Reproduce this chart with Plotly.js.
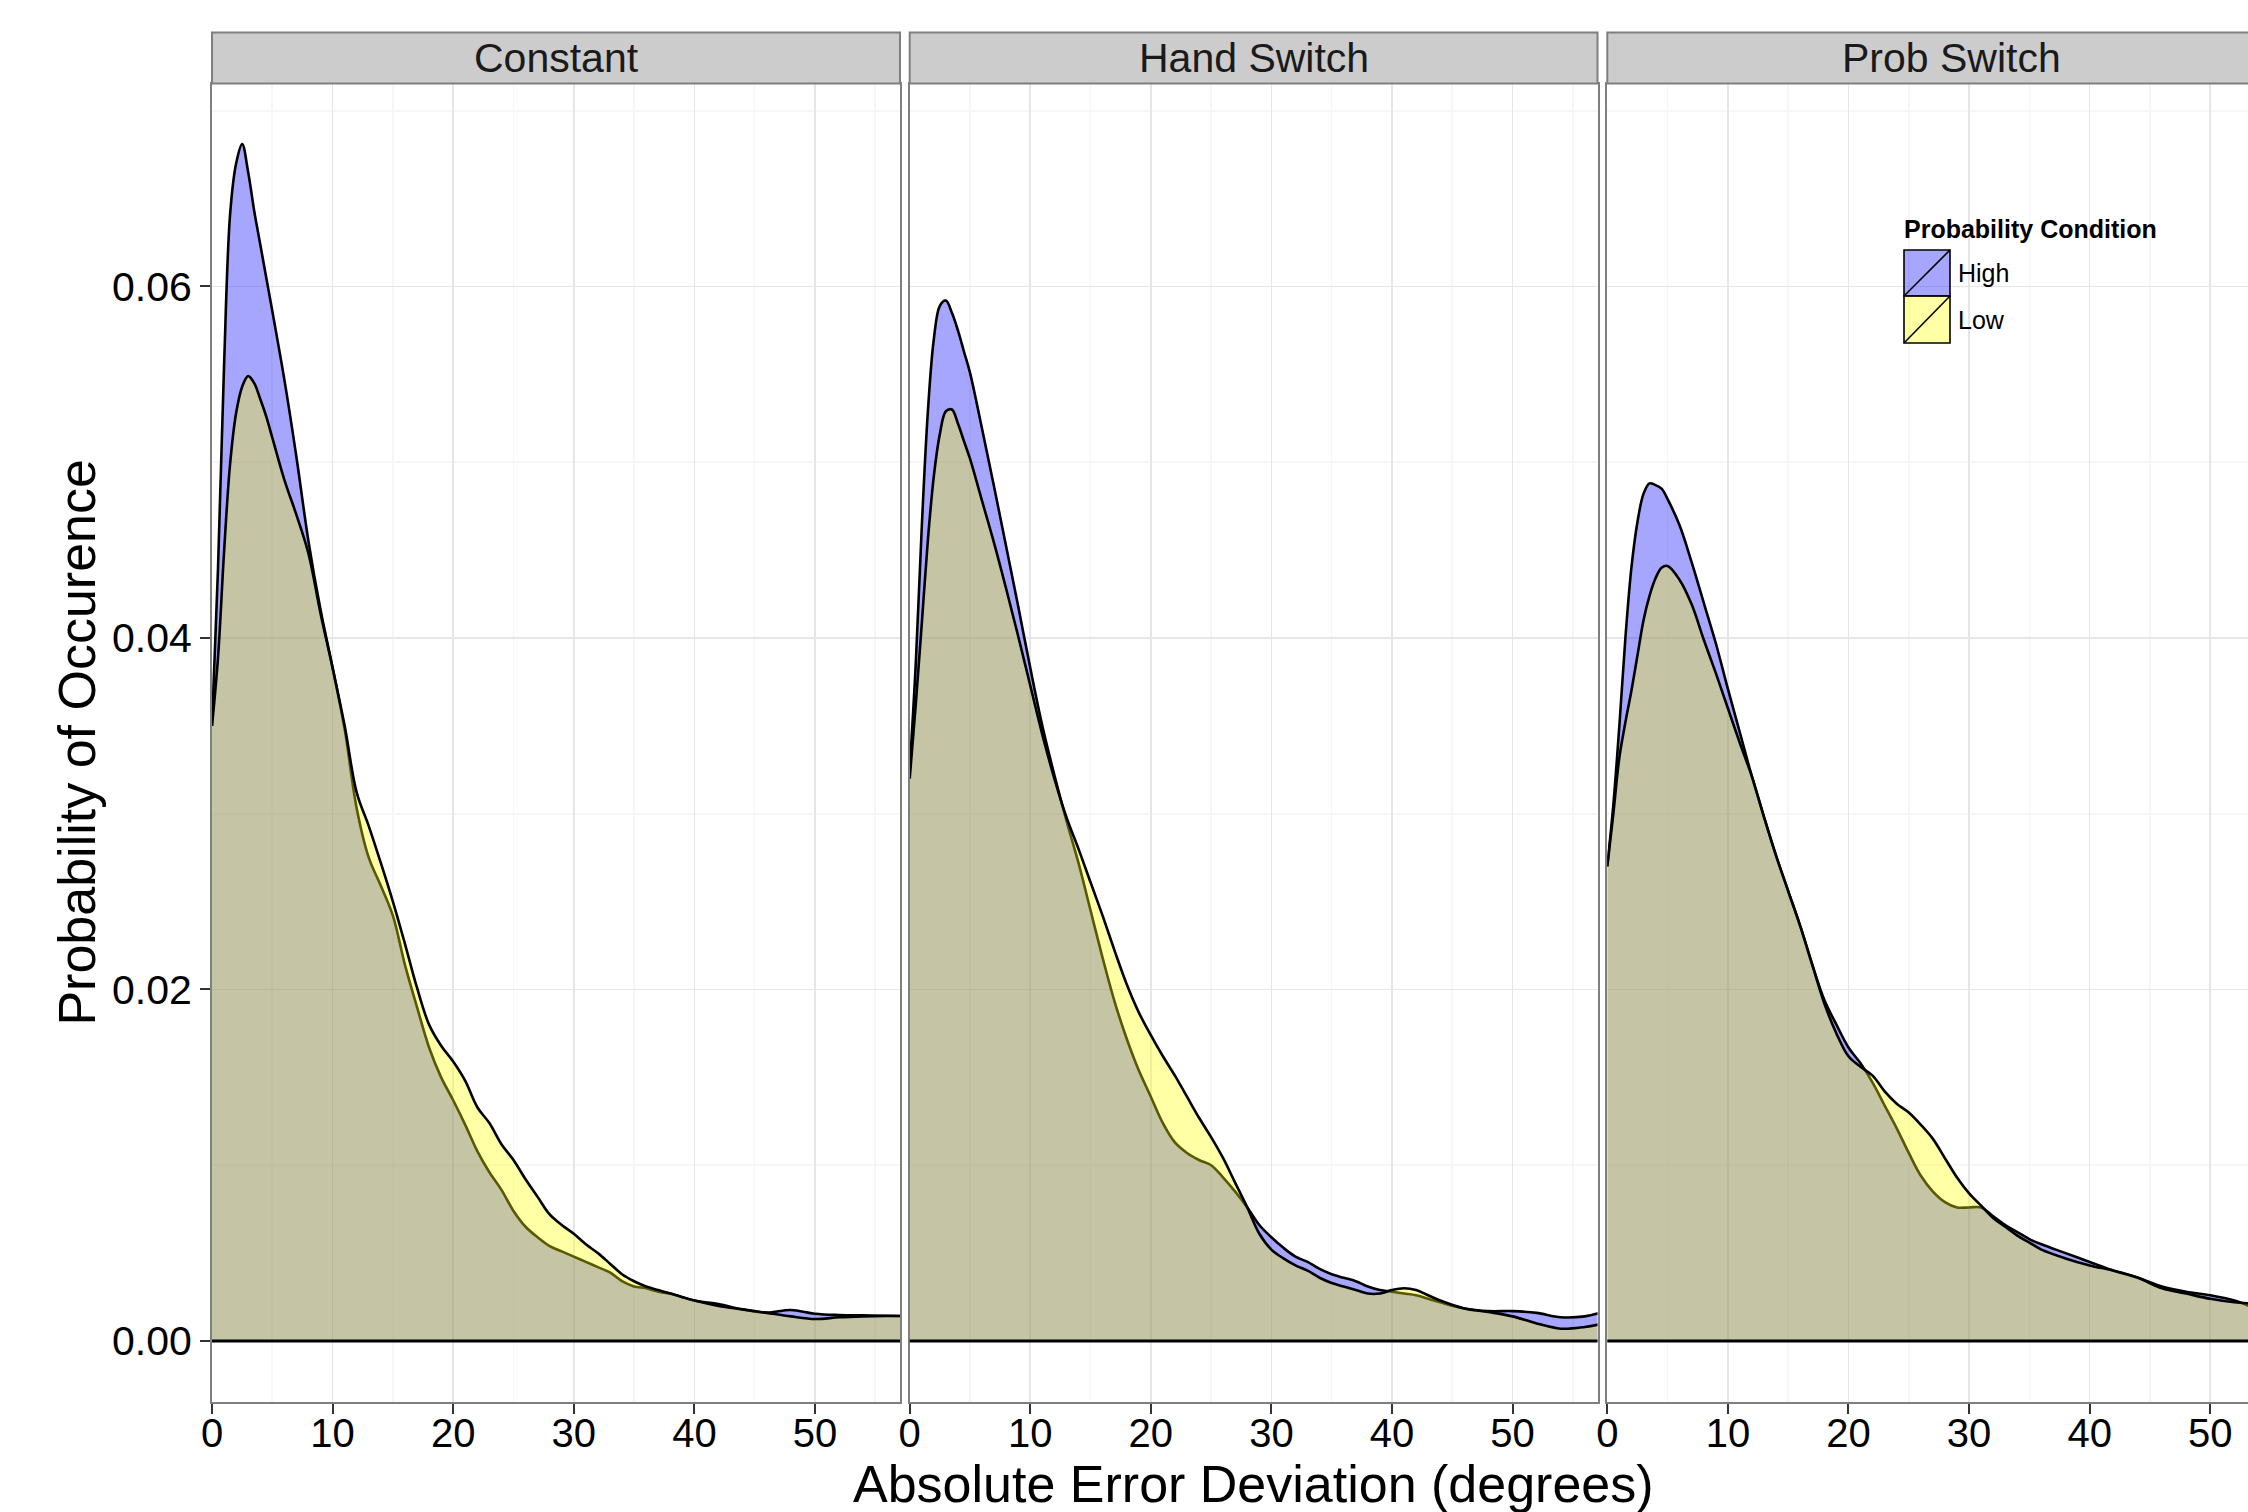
<!DOCTYPE html>
<html>
<head>
<meta charset="utf-8">
<script src="https://cdn.plot.ly/plotly-3.0.1.min.js"></script>
<style>html,body{margin:0;padding:0;background:#fff;}#chart{width:2248px;height:1512px;}</style>
</head>
<body>
<div id="chart"></div>
<script>
// ---------------- DATA ----------------
const panelNames = ['Constant', 'Hand Switch', 'Prob Switch'];
const seriesNames = ['High', 'Low'];
const legendTitle = 'Probability Condition';
const xTitle = 'Absolute Error Deviation (degrees)';
const yTitle = 'Probability of Occurence';

const xConstant = [0, 0.5, 1, 1.5, 2, 2.5, 3, 3.5, 4, 4.5, 5, 6, 7, 8, 9, 10, 11, 12, 13, 14, 15, 16, 17, 18, 19, 20, 21, 22, 23, 24, 25, 26, 27, 28, 29, 30, 31, 32, 33, 34, 35, 36, 37, 38, 40, 42, 44, 46, 48, 50, 52, 54, 56, 57.2];
const highConstant = [0.0350, 0.0440, 0.0555, 0.0641, 0.0670, 0.0681, 0.0665, 0.0643, 0.0624, 0.0605, 0.0586, 0.0547, 0.0503, 0.0455, 0.0416, 0.0383, 0.0348, 0.0303, 0.0275, 0.0259, 0.0242, 0.0214, 0.0190, 0.0167, 0.0150, 0.0137, 0.0123, 0.0108, 0.0096, 0.0086, 0.0074, 0.0065, 0.0059, 0.0054, 0.0051, 0.0048, 0.0045, 0.0042, 0.0039, 0.0034, 0.0031, 0.0030, 0.0028, 0.0027, 0.0023, 0.0021, 0.0018, 0.00162, 0.00176, 0.00155, 0.00148, 0.00146, 0.00144, 0.00142];
const lowConstant = [0.0350, 0.0389, 0.0449, 0.0499, 0.0528, 0.0543, 0.0549, 0.0545, 0.0536, 0.0526, 0.0514, 0.0490, 0.0470, 0.0448, 0.0414, 0.0383, 0.0350, 0.0312, 0.0293, 0.0272, 0.0250, 0.0226, 0.0201, 0.0180, 0.0168, 0.0159, 0.0148, 0.0133, 0.0124, 0.0112, 0.0103, 0.0092, 0.0082, 0.0072, 0.0066, 0.0061, 0.0055, 0.0050, 0.0044, 0.0038, 0.0034, 0.0031, 0.0029, 0.0027, 0.0023, 0.0020, 0.0018, 0.0016, 0.0014, 0.00125, 0.00135, 0.0014, 0.00142, 0.00142];

const xHand = [0, 0.5, 1, 1.5, 2, 2.5, 3, 3.5, 4, 4.5, 5, 6, 7, 8, 9, 10, 11, 12, 13, 14, 15, 16, 17, 18, 19, 20, 21, 22, 23, 24, 25, 26, 27, 28, 29, 30, 31, 32, 33, 34, 35, 36, 37, 38, 39, 40, 41, 42, 43, 44, 46, 48, 50, 52, 54, 56, 57.2];
const highHand = [0.0325, 0.0385, 0.0463, 0.0528, 0.0570, 0.0589, 0.0592, 0.0585, 0.0575, 0.0563, 0.0551, 0.0519, 0.0486, 0.0452, 0.0418, 0.0383, 0.0350, 0.0322, 0.0296, 0.0272, 0.0245, 0.0218, 0.0193, 0.0172, 0.0154, 0.0139, 0.0124, 0.0113, 0.0107, 0.0103, 0.0100, 0.0093, 0.0085, 0.0076, 0.0066, 0.0059, 0.0053, 0.0048, 0.0045, 0.0041, 0.0038, 0.0036, 0.0034, 0.0031, 0.0029, 0.0028, 0.0027, 0.0026, 0.0024, 0.0022, 0.00185, 0.0017, 0.0017, 0.0016, 0.00135, 0.0014, 0.00159];
const lowHand = [0.0320, 0.0362, 0.0408, 0.0455, 0.0492, 0.0516, 0.0529, 0.0530, 0.0522, 0.0512, 0.0502, 0.0478, 0.0454, 0.0428, 0.0401, 0.0373, 0.0345, 0.0320, 0.0298, 0.0280, 0.0261, 0.0242, 0.0222, 0.0203, 0.0187, 0.0174, 0.0162, 0.0151, 0.0139, 0.0127, 0.0116, 0.0104, 0.0090, 0.0076, 0.0061, 0.0052, 0.0047, 0.0043, 0.0040, 0.0036, 0.0033, 0.0031, 0.0029, 0.0027, 0.0027, 0.0029, 0.0030, 0.0029, 0.0026, 0.0023, 0.00185, 0.00165, 0.0014, 0.0010, 0.0007, 0.0008, 0.00095];

const xProb = [0, 0.5, 1, 1.5, 2, 2.5, 3, 3.5, 4, 4.5, 5, 6, 7, 8, 9, 10, 11, 12, 13, 14, 15, 16, 17, 18, 19, 20, 21, 22, 23, 24, 25, 26, 27, 28, 29, 30, 31, 32, 33, 34, 35, 36, 38, 40, 42, 44, 46, 48, 50, 52, 53.2];
const highProb = [0.0270, 0.0305, 0.0350, 0.0400, 0.0440, 0.0466, 0.0482, 0.0488, 0.0487, 0.0485, 0.0479, 0.0464, 0.0443, 0.0420, 0.0397, 0.0371, 0.0346, 0.0321, 0.0298, 0.0276, 0.0256, 0.0236, 0.0214, 0.0194, 0.0180, 0.0167, 0.0158, 0.0147, 0.0134, 0.0121, 0.0107, 0.0094, 0.0085, 0.0079, 0.0076, 0.0076, 0.0076, 0.0071, 0.0066, 0.0062, 0.0058, 0.0055, 0.0050, 0.0045, 0.0040, 0.0036, 0.0031, 0.0028, 0.0026, 0.0023, 0.0020];
const lowProb = [0.0270, 0.0300, 0.0332, 0.0352, 0.0370, 0.0390, 0.0410, 0.0424, 0.0434, 0.0440, 0.0441, 0.0433, 0.0419, 0.0399, 0.0380, 0.0360, 0.0340, 0.0321, 0.0298, 0.0276, 0.0256, 0.0236, 0.0214, 0.0192, 0.0175, 0.0162, 0.0156, 0.0151, 0.0142, 0.0135, 0.0130, 0.0123, 0.0115, 0.0104, 0.0093, 0.0084, 0.0077, 0.0070, 0.0065, 0.0060, 0.0056, 0.0052, 0.0047, 0.0043, 0.0040, 0.0036, 0.0030, 0.0027, 0.0024, 0.0022, 0.00215];

const xTicks = [0, 10, 20, 30, 40, 50];
const yTicks = [0, 0.02, 0.04, 0.06];
const yTickText = ['0.00', '0.02', '0.04', '0.06'];

// ---------------- STYLE / LAYOUT ----------------
const W = 2248, H = 1512;
const FONT = 'Liberation Sans, Arial, Helvetica, sans-serif';
const px = v => v / W;
const py = v => 1 - v / H;
const highFill = 'rgba(0,0,255,0.35)';
const lowFill = 'rgba(255,255,0,0.35)';
const borderCol = '#7F7F7F';

const panelX = [[212, 900], [909.7, 1597.5], [1607.3, 2248]];
const panelTop = 83.5, panelBottom = 1401.7, stripTop = 32.6;
const xRanges = [[0, 57.05], [0, 57.05], [0, 53.13]];
const yRange = [-0.003454, 0.07155];

const seriesX = [xConstant, xHand, xProb];
const seriesHigh = [highConstant, highHand, highProb];
const seriesLow = [lowConstant, lowHand, lowProb];

const traces = [];
for (let i = 0; i < 3; i++) {
  const sfx = i === 0 ? '' : String(i + 1);
  [[seriesHigh[i], highFill, seriesNames[0]], [seriesLow[i], lowFill, seriesNames[1]]].forEach(([ys, fc, nm]) => {
    traces.push({
      type: 'scatter', mode: 'lines', name: nm,
      x: seriesX[i], y: ys,
      xaxis: 'x' + sfx, yaxis: 'y' + sfx,
      fill: 'tozeroy', fillcolor: fc,
      line: { color: '#000', width: 2.6, shape: 'spline', smoothing: 1 },
      hoverinfo: 'skip', showlegend: false
    });
  });
}

const layout = {
  width: W, height: H,
  margin: { l: 0, r: 0, t: 0, b: 0 },
  paper_bgcolor: '#fff', plot_bgcolor: '#fff',
  showlegend: false,
  font: { family: FONT, color: '#000' },
  shapes: [], annotations: []
};

for (let i = 0; i < 3; i++) {
  const sfx = i === 0 ? '' : String(i + 1);
  const dom = [px(panelX[i][0]), Math.min(1, px(panelX[i][1]))];
  layout['xaxis' + sfx] = {
    domain: dom, range: xRanges[i], anchor: 'y' + sfx,
    tickvals: xTicks, ticks: 'outside', ticklen: 10, tickwidth: 2, tickcolor: '#333',
    ticklabelstandoff: -15,
    tickfont: { family: FONT, size: 40, color: '#000' },
    showline: true, linecolor: borderCol, linewidth: 2, mirror: true,
    showgrid: true, gridcolor: '#E6E6E6', gridwidth: 1.6,
    minor: { dtick: 5, tick0: 0, showgrid: true, gridcolor: '#F6F6F6', gridwidth: 1.6, ticks: '' },
    zeroline: false, fixedrange: true
  };
  layout['yaxis' + sfx] = {
    domain: [py(panelBottom), py(panelTop)], range: yRange, anchor: 'x' + sfx,
    tickvals: yTicks, ticktext: yTickText,
    ticks: i === 0 ? 'outside' : '', ticklen: 10, tickwidth: 2, tickcolor: '#333',
    showticklabels: i === 0,
    tickfont: { family: FONT, size: 41, color: '#000' },
    showline: true, linecolor: borderCol, linewidth: 2, mirror: i < 2,
    showgrid: true, gridcolor: '#E6E6E6', gridwidth: 1.6,
    minor: { dtick: 0.01, tick0: 0, showgrid: true, gridcolor: '#F6F6F6', gridwidth: 1.6, ticks: '' },
    zeroline: false, fixedrange: true
  };
  // density baseline (bottom edge of the density polygons)
  layout.shapes.push({
    type: 'line', xref: 'x' + sfx + ' domain', yref: 'y' + sfx,
    x0: 0, x1: 1, y0: 0, y1: 0, layer: 'above',
    line: { color: '#000', width: 2.8 }
  });
  // facet strip
  layout.shapes.push({
    type: 'rect', xref: 'paper', yref: 'paper',
    x0: dom[0], x1: i === 2 ? 1.01 : dom[1], y0: py(panelTop), y1: py(stripTop),
    fillcolor: '#CCCCCC', line: { color: borderCol, width: 2 }, layer: 'above'
  });
  layout.annotations.push({
    xref: 'paper', yref: 'paper',
    x: px((panelX[i][0] + (i === 2 ? 2295 : panelX[i][1])) / 2), y: py((panelTop + stripTop) / 2),
    text: panelNames[i], showarrow: false, xanchor: 'center', yanchor: 'middle',
    font: { family: FONT, size: 41, color: '#1a1a1a' }
  });
}

// axis titles
layout.annotations.push({
  xref: 'paper', yref: 'paper', x: px(1253.6), y: py(1484),
  text: xTitle, showarrow: false, xanchor: 'center', yanchor: 'middle',
  font: { family: FONT, size: 52, color: '#000' }
});
layout.annotations.push({
  xref: 'paper', yref: 'paper', x: px(77), y: py(742.6),
  text: yTitle, showarrow: false, textangle: -90, xanchor: 'center', yanchor: 'middle',
  font: { family: FONT, size: 52, color: '#000' }
});

// legend (drawn by hand to get the ggplot key look)
const keyX0 = 1904, keyX1 = 1950;
const keyRows = [[250, 296, highFill], [296, 343, lowFill]];
keyRows.forEach(([y0, y1, fc], k) => {
  layout.shapes.push({
    type: 'rect', xref: 'paper', yref: 'paper',
    x0: px(keyX0), x1: px(keyX1), y0: py(y1), y1: py(y0),
    fillcolor: fc, line: { color: '#000', width: 1.6 }, layer: 'above'
  });
  layout.shapes.push({
    type: 'line', xref: 'paper', yref: 'paper',
    x0: px(keyX0), x1: px(keyX1), y0: py(y1), y1: py(y0),
    line: { color: '#000', width: 1.6 }, layer: 'above'
  });
  layout.annotations.push({
    xref: 'paper', yref: 'paper', x: px(1956), y: py((y0 + y1) / 2),
    text: seriesNames[k], showarrow: false, xanchor: 'left', yanchor: 'middle',
    font: { family: FONT, size: 25, color: '#000' }
  });
});
layout.annotations.push({
  xref: 'paper', yref: 'paper', x: px(1902), y: py(229),
  text: '<b>' + legendTitle + '</b>', showarrow: false, xanchor: 'left', yanchor: 'middle',
  font: { family: FONT, size: 25, color: '#000' }
});

Plotly.newPlot('chart', traces, layout, { displayModeBar: false, staticPlot: true });
</script>
</body>
</html>
